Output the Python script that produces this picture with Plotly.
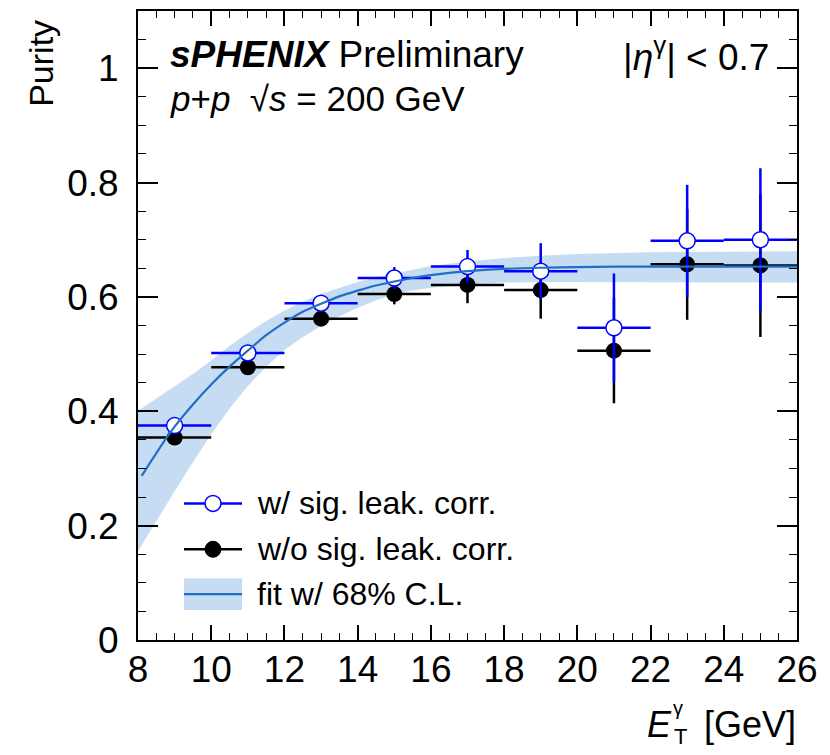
import plotly.graph_objects as go

# ---- data ---------------------------------------------------------------
bin_edges = [8, 10, 12, 14, 16, 18, 20, 22, 24, 26]

purity_corr = [0.375, 0.502, 0.589, 0.633, 0.653, 0.645, 0.546, 0.698, 0.700]
purity_corr_err = [0.009, 0.007, 0.011, 0.019, 0.029, 0.049, 0.095, 0.098, 0.125]

purity_nocorr = [0.354, 0.477, 0.562, 0.605, 0.621, 0.612, 0.506, 0.657, 0.655]
purity_nocorr_err = [0.009, 0.007, 0.011, 0.018, 0.032, 0.050, 0.092, 0.097, 0.125]

fit_x = [8.1, 8.5, 9, 9.5, 10, 10.5, 11, 11.5, 12, 12.5, 13, 13.5, 14, 14.5,
         15, 15.5, 16, 17, 18, 19, 20, 21, 22, 24, 26]
fit_y = [0.287, 0.327, 0.373, 0.412, 0.447, 0.478, 0.506, 0.533, 0.555, 0.574,
         0.588, 0.601, 0.611, 0.620, 0.627, 0.633, 0.638, 0.645, 0.649, 0.651,
         0.652, 0.653, 0.653, 0.653, 0.653]

band_x = [8, 8.5, 9, 9.5, 10, 10.5, 11, 11.5, 12, 12.5, 13, 13.5, 14, 14.5,
          15, 15.5, 16, 17, 18, 19, 20, 22, 24, 26]
band_hi = [0.401, 0.422, 0.443, 0.465, 0.489, 0.514, 0.537, 0.558, 0.576, 0.592,
           0.605, 0.616, 0.626, 0.634, 0.641, 0.648, 0.654, 0.662, 0.668, 0.672,
           0.675, 0.678, 0.679, 0.680]
band_lo = [0.155, 0.208, 0.260, 0.311, 0.360, 0.405, 0.444, 0.478, 0.507, 0.530,
           0.549, 0.566, 0.581, 0.594, 0.604, 0.611, 0.616, 0.622, 0.625, 0.626,
           0.626, 0.626, 0.625, 0.625]

y_ticks = [0, 0.2, 0.4, 0.6, 0.8, 1.0]
y_tick_text = ["0", "0.2", "0.4", "0.6", "0.8", "1"]

# ---- derived bin centres / half widths ------------------------------------
centers = [(a + b) / 2 for a, b in zip(bin_edges[:-1], bin_edges[1:])]
half_w = [(b - a) / 2 for a, b in zip(bin_edges[:-1], bin_edges[1:])]

FONT = "Liberation Sans, Arial, Helvetica, sans-serif"
BLUE = "#0000ff"
FIT = "#1f6fc6"
BAND = "#c6dcf2"

fig = go.Figure()

# 68% C.L. band of the fit
fig.add_trace(go.Scatter(x=band_x, y=band_lo, mode="lines", line=dict(width=0),
                         hoverinfo="skip", showlegend=False))
fig.add_trace(go.Scatter(x=band_x, y=band_hi, mode="lines", line=dict(width=0),
                         fill="tonexty", fillcolor=BAND, hoverinfo="skip", showlegend=False))

# purity without signal leakage correction
fig.add_trace(go.Scatter(
    x=centers, y=purity_nocorr, mode="markers",
    marker=dict(symbol="circle", size=16, color="black"),
    error_y=dict(type="data", array=purity_nocorr_err, color="black", thickness=2.5, width=0),
    error_x=dict(type="data", array=half_w, color="black", thickness=2.5, width=0),
    showlegend=False))

# purity with signal leakage correction
fig.add_trace(go.Scatter(
    x=centers, y=purity_corr, mode="markers",
    marker=dict(symbol="circle", size=16, color="white", line=dict(color=BLUE, width=1.5)),
    error_y=dict(type="data", array=purity_corr_err, color=BLUE, thickness=2.5, width=0),
    error_x=dict(type="data", array=half_w, color=BLUE, thickness=2.5, width=0),
    showlegend=False))

# fit curve
fig.add_trace(go.Scatter(x=fit_x, y=fit_y, mode="lines",
                         line=dict(color=FIT, width=2.2, shape="spline", smoothing=0.6),
                         showlegend=False))

# empty trace that carries the top / right tick axes
fig.add_trace(go.Scatter(x=[None], y=[None], xaxis="x2", yaxis="y2",
                         showlegend=False, hoverinfo="skip"))

# ---- frame geometry (pixels) ----------------------------------------------
W, H = 830, 755
ML, MR, MT, MB = 138, 33, 9, 115
PW, PH = W - ML - MR, H - MT - MB


def px(xp):
    return (xp - ML) / PW


def py(yp):
    return (H - MB - yp) / PH


annotations = []
shapes = []

# headline texts
annotations.append(dict(x=px(168), y=py(53), xref="paper", yref="paper", xanchor="left",
                        yanchor="middle", showarrow=False,
                        text="<b><i>sPHENIX</i></b> Preliminary",
                        font=dict(family=FONT, size=37, color="black")))
annotations.append(dict(x=px(168), y=py(97), xref="paper", yref="paper", xanchor="left",
                        yanchor="middle", showarrow=False,
                        text="<i>p</i>+<i>p</i>  √<i>s</i> = 200 GeV",
                        font=dict(family=FONT, size=35, color="black")))
annotations.append(dict(x=px(771), y=py(53), xref="paper", yref="paper", xanchor="right",
                        yanchor="middle", showarrow=False,
                        text="|<i>η</i><sup>γ</sup>| &lt; 0.7",
                        font=dict(family=FONT, size=37, color="black")))

# axis titles
annotations.append(dict(x=px(41), y=py(62), xref="paper", yref="paper", xanchor="center",
                        yanchor="middle", showarrow=False, textangle=-90, text="Purity",
                        font=dict(family=FONT, size=34, color="black")))
annotations.append(dict(x=px(798), y=py(725), xref="paper", yref="paper", xanchor="right",
                        yanchor="middle", showarrow=False, text="[GeV]",
                        font=dict(family=FONT, size=36, color="black")))
annotations.append(dict(x=px(674), y=py(725), xref="paper", yref="paper", xanchor="right",
                        yanchor="middle", showarrow=False, text="<i>E</i>",
                        font=dict(family=FONT, size=36, color="black")))
annotations.append(dict(x=px(672), y=py(737), xref="paper", yref="paper", xanchor="left",
                        yanchor="middle", showarrow=False, text="T",
                        font=dict(family=FONT, size=22, color="black")))
annotations.append(dict(x=px(671), y=py(708), xref="paper", yref="paper", xanchor="left",
                        yanchor="middle", showarrow=False, text="γ",
                        font=dict(family=FONT, size=20, color="black")))

# legend
leg_x0, leg_x1, leg_xm = 184, 242, 213
rows = [503, 549, 594]
shapes.append(dict(type="line", xref="paper", yref="paper", x0=px(leg_x0), x1=px(leg_x1),
                   y0=py(rows[0]), y1=py(rows[0]), line=dict(color=BLUE, width=2.5)))
shapes.append(dict(type="circle", xref="paper", yref="paper", xsizemode="pixel",
                   ysizemode="pixel", xanchor=px(leg_xm), yanchor=py(rows[0]),
                   x0=-8, x1=8, y0=-8, y1=8, fillcolor="white",
                   line=dict(color=BLUE, width=1.5)))
shapes.append(dict(type="line", xref="paper", yref="paper", x0=px(leg_x0), x1=px(leg_x1),
                   y0=py(rows[1]), y1=py(rows[1]), line=dict(color="black", width=2.5)))
shapes.append(dict(type="circle", xref="paper", yref="paper", xsizemode="pixel",
                   ysizemode="pixel", xanchor=px(leg_xm), yanchor=py(rows[1]),
                   x0=-8, x1=8, y0=-8, y1=8, fillcolor="black",
                   line=dict(color="black", width=1)))
shapes.append(dict(type="rect", xref="paper", yref="paper", x0=px(leg_x0), x1=px(leg_x1),
                   y0=py(610), y1=py(578), fillcolor=BAND, line=dict(width=0)))
shapes.append(dict(type="line", xref="paper", yref="paper", x0=px(leg_x0), x1=px(leg_x1),
                   y0=py(rows[2]), y1=py(rows[2]), line=dict(color=FIT, width=2.2)))

leg_text = ["w/ sig. leak. corr.", "w/o sig. leak. corr.", "fit w/ 68% C.L."]
for yy, t in zip(rows, leg_text):
    annotations.append(dict(x=px(255), y=py(yy), xref="paper", yref="paper",
                            xanchor="left", yanchor="middle", showarrow=False, text=t,
                            font=dict(family=FONT, size=32, color="black")))

axis_common = dict(showgrid=False, zeroline=False, showline=True, linecolor="black",
                   linewidth=2, mirror=True, ticks="inside", tickcolor="black",
                   tickwidth=1.5, tickfont=dict(family=FONT, size=37, color="black"))

x_minor = dict(dtick=0.5, ticklen=7, ticks="inside", tickcolor="black",
               tickwidth=1.2, showgrid=False)
y_minor = dict(dtick=0.05, ticklen=8, ticks="inside", tickcolor="black",
               tickwidth=1.2, showgrid=False)

fig.update_layout(
    width=W, height=H,
    margin=dict(l=ML, r=MR, t=MT, b=MB),
    paper_bgcolor="white", plot_bgcolor="white",
    showlegend=False,
    xaxis=dict(range=[8, 26], dtick=2, tick0=8, ticklen=15, minor=x_minor,
               ticklabelstandoff=-4, **axis_common),
    yaxis=dict(range=[0, 1.1], tickvals=y_ticks, ticktext=y_tick_text, ticklen=20,
               minor=y_minor, ticklabelstandoff=10, **axis_common),
    xaxis2=dict(range=[8, 26], dtick=2, tick0=8, ticklen=15, minor=x_minor,
                overlaying="x", side="top", anchor="y", showticklabels=False,
                showgrid=False, zeroline=False, ticks="inside", tickcolor="black",
                tickwidth=1.5),
    yaxis2=dict(range=[0, 1.1], tickvals=y_ticks, ticklen=20, minor=y_minor,
                overlaying="y", side="right", anchor="x", showticklabels=False,
                showgrid=False, zeroline=False, ticks="inside", tickcolor="black",
                tickwidth=1.5),
    annotations=annotations,
    shapes=shapes,
)

fig.write_html("out.html")
